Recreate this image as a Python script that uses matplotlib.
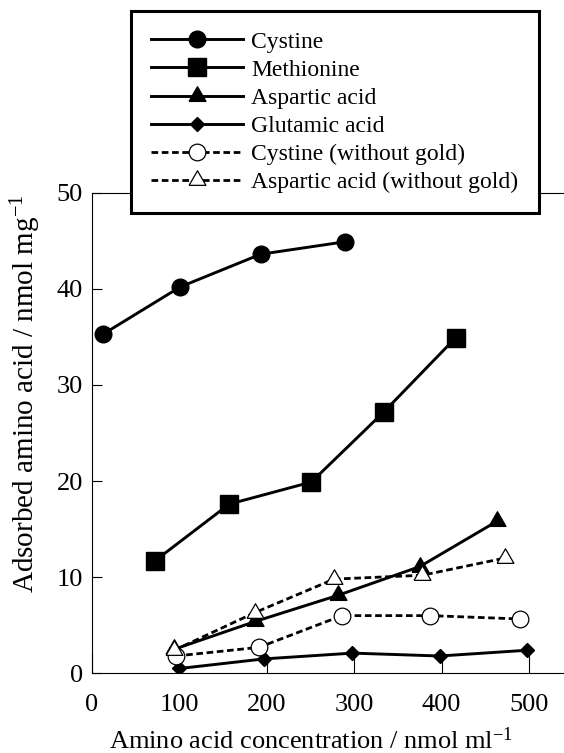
import numpy as np
import matplotlib.pyplot as plt

plt.rcParams['font.family'] = 'Liberation Serif'
plt.rcParams['mathtext.fontset'] = 'custom'
plt.rcParams['mathtext.rm'] = 'Liberation Serif'
plt.rcParams['mathtext.it'] = 'Liberation Serif:italic'

# values
cys_x = [13, 101, 193, 290]
cys_y = [35.3, 40.2, 43.6, 44.9]
met_x = [72, 157, 251, 334, 416]
met_y = [11.7, 17.6, 19.9, 27.2, 34.9]
asp_x = [94, 187, 281, 375, 463]
asp_y = [2.5, 5.4, 8.1, 11.1, 15.8]
glu_x = [100, 197, 298, 398, 498]
glu_y = [0.5, 1.5, 2.1, 1.8, 2.4]
cys_ng_x = [96, 191, 286, 387, 490]
cys_ng_y = [1.8, 2.7, 6.0, 6.0, 5.65]
asp_ng_x = [94, 186, 277, 378, 473]
asp_ng_y = [2.4, 6.3, 9.8, 10.2, 12.0]

labels = ['Cystine', 'Methionine', 'Aspartic acid', 'Glutamic acid',
          'Cystine (without gold)', 'Aspartic acid (without gold)']

# equilateral triangle marker (closed)
tri = [(-1, -0.577), (1, -0.577), (0, 1.155), (-1, -0.577)]

fig = plt.figure(figsize=(5.64, 7.53), dpi=100)
ax = fig.add_axes([92 / 564, 79.7 / 753, 524.4 / 564, 480.6 / 753])

solid = dict(color='black', lw=2.1, markeredgecolor='black', markerfacecolor='black')
dashed = dict(color='black', lw=2.0, dashes=(2.4, 1.3), markeredgecolor='black',
              markerfacecolor='white', markeredgewidth=0.9)

h1, = ax.plot(cys_x, cys_y, marker='o', ms=12, **solid)
h2, = ax.plot(met_x, met_y, marker='s', ms=13, **solid)
h3, = ax.plot(asp_x, asp_y, marker=tri, ms=14, **solid)
h4, = ax.plot(glu_x, glu_y, marker='D', ms=7.6, **solid)
h5, = ax.plot(cys_ng_x, cys_ng_y, marker='o', ms=12, **dashed)
h6, = ax.plot(asp_ng_x, asp_ng_y, marker=tri, ms=14, **dashed)

ax.set_xlim(0, 600)
ax.set_ylim(0, 50)
ax.set_xticks([0, 100, 200, 300, 400, 500])
ax.set_yticks([0, 10, 20, 30, 40, 50])
ax.tick_params(axis='x', direction='in', length=14, width=0.8, pad=15, labelsize=19)
ax.tick_params(axis='y', direction='in', length=7, width=0.8, pad=6.5, labelsize=19)
for s in ax.spines.values():
    s.set_linewidth(0.8)

leg = ax.legend([h1, h2, h3, h4, h5, h6], labels, loc='upper left',
                bbox_to_anchor=(131 / 564, 1 - 11 / 753), bbox_transform=fig.transFigure,
                borderaxespad=0, fontsize=17, handlelength=3.9, handletextpad=0.35,
                labelspacing=0.28, borderpad=0.85, fancybox=False, framealpha=1,
                edgecolor='black')
leg.get_frame().set_linewidth(2.2)

fig.text(311 / 564, 4 / 753, 'Amino acid concentration / nmol ml$^{-1}$',
         ha='center', va='baseline', fontsize=19)
fig.text(26 / 564, 1 - 394 / 753, 'Adsorbed amino acid / nmol mg$^{-1}$',
         ha='center', va='center', rotation=90, fontsize=21)

fig.savefig('out.png', dpi=100)
